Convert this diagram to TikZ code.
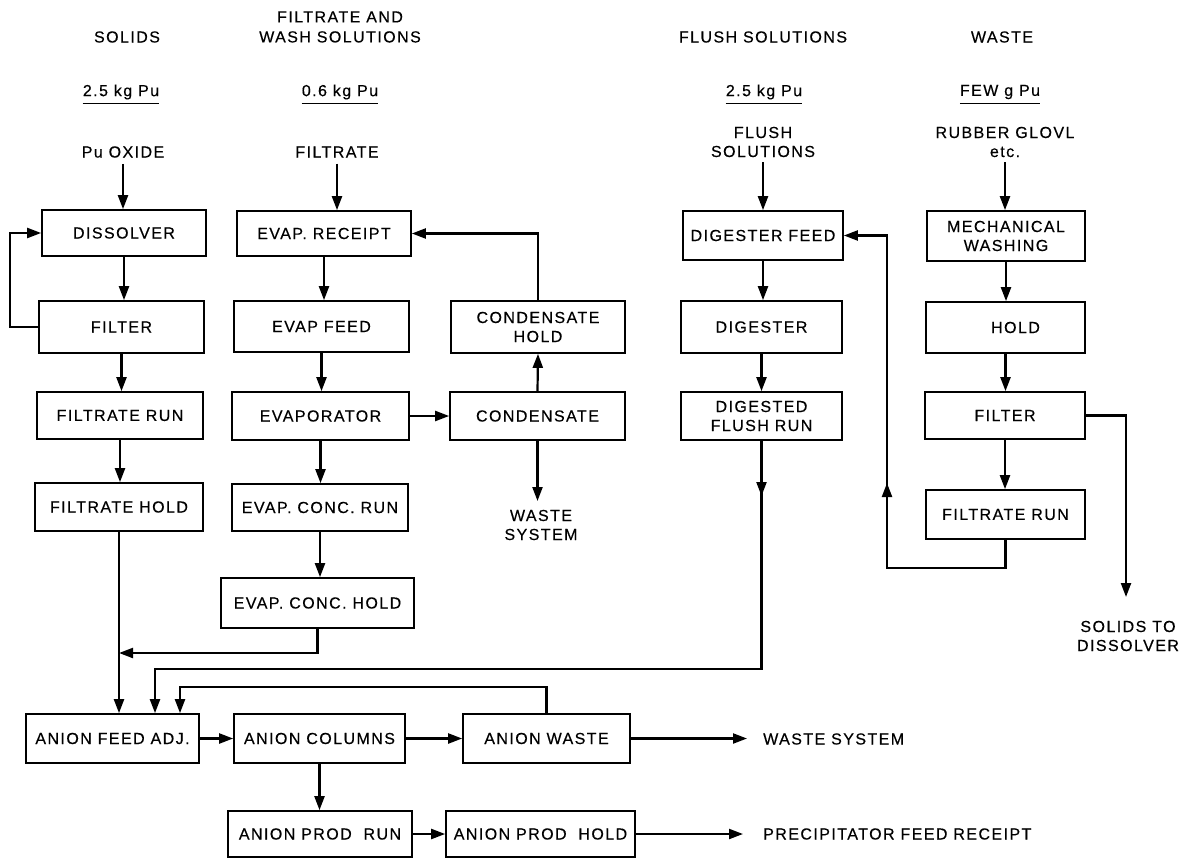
\documentclass[tikz,border=0pt]{standalone}
\usepackage{fontspec}
\setmainfont{Liberation Sans}[LetterSpace=9.0, FakeBold=0.4]
\usetikzlibrary{arrows.meta}
\begin{document}
\begin{tikzpicture}[x=1pt,y=-1pt,
  every node/.style={font=\fontsize{16}{19}\selectfont, inner sep=0pt},
  box/.style={draw, line width=1.7pt, align=center},
  lbl/.style={align=center},
  arr/.style={line width=2.2pt, -{Triangle[length=14pt,width=10pt]}},
  uline/.style={line width=1.3pt}]
\useasboundingbox (0,0) rectangle (1185,858);

% ---------- headers ----------
\node[lbl] (hsolids) at (127,37) {SOLIDS};
\node[lbl, font=\fontsize{16}{20}\selectfont] (hfiltr) at (340,27) {FILTRATE AND\\WASH SOLUTIONS};
\node[lbl] (hflush) at (763,37) {FLUSH SOLUTIONS};
\node[lbl] (hwaste) at (1002,37) {WASTE};

\node[lbl] (kg1) at (121,92) {2.5 kg Pu};
\node[lbl] (kg2) at (340,92) {0.6 kg Pu};
\node[lbl] (kg3) at (764,92) {2.5 kg Pu};
\node[lbl] (kg4) at (1000,92) {FEW g Pu};
\foreach \k in {kg1,kg2,kg3,kg4}
  \draw[uline] ([yshift=-4pt]\k.south west) -- ([yshift=-4pt]\k.south east);

\node[lbl] (pu) at (123,152) {Pu OXIDE};
\node[lbl] (filtrate) at (337,152) {FILTRATE};
\node[lbl] (flush) at (763,142) {FLUSH\\SOLUTIONS};
\node[lbl] (rubber) at (1005,142) {RUBBER GLOVL\\etc.};

% ---------- solids column ----------
\node[box, minimum width=164pt, minimum height=46pt] (dissolver) at (124,233) {DISSOLVER};
\node[box, minimum width=165pt, minimum height=52pt] (filter1) at (121.5,327) {FILTER};
\node[box, minimum width=166pt, minimum height=47pt] (frun1) at (120,415.5) {FILTRATE RUN};
\node[box, minimum width=168pt, minimum height=48pt] (fhold1) at (119,507) {FILTRATE HOLD};

% ---------- filtrate column ----------
\node[box, minimum width=174pt, minimum height=45pt] (evrec) at (324,233.5) {EVAP. RECEIPT};
\node[box, minimum width=175pt, minimum height=51pt] (evfeed) at (321.5,326.5) {EVAP FEED};
\node[box, minimum width=177pt, minimum height=48pt] (evap) at (320.5,416) {EVAPORATOR};
\node[box, minimum width=176pt, minimum height=47pt] (ecrun) at (320,507.5) {EVAP. CONC. RUN};
\node[box, minimum width=193pt, minimum height=50pt] (echold) at (317.5,603) {EVAP. CONC. HOLD};

\node[box, minimum width=174pt, minimum height=52pt] (condhold) at (538,327) {CONDENSATE\\HOLD};
\node[box, minimum width=175pt, minimum height=48pt] (cond) at (537.5,416) {CONDENSATE};
\node[lbl] (wsys1) at (541,525) {WASTE\\SYSTEM};

% ---------- flush column ----------
\node[box, minimum width=160pt, minimum height=49pt] (digfeed) at (763,235.5) {DIGESTER FEED};
\node[box, minimum width=161pt, minimum height=52pt] (digester) at (761.5,327) {DIGESTER};
\node[box, minimum width=161pt, minimum height=48pt] (dfr) at (761.5,416) {DIGESTED\\FLUSH RUN};

% ---------- waste column ----------
\node[box, minimum width=158pt, minimum height=50pt] (mech) at (1006,236) {MECHANICAL\\WASHING};
\node[box, minimum width=159pt, minimum height=51pt] (hold) at (1005.5,327.5) {\hspace{20pt}HOLD};
\node[box, minimum width=160pt, minimum height=47pt] (filter2) at (1005,415.5) {FILTER};
\node[box, minimum width=159pt, minimum height=49pt] (frun2) at (1005.5,514.5) {FILTRATE RUN};
\node[lbl] (solids) at (1128,636) {SOLIDS TO\\DISSOLVER};

% ---------- anion rows ----------
\node[box, minimum width=173pt, minimum height=49pt] (afa) at (112.5,738.5) {ANION FEED ADJ.};
\node[box, minimum width=171pt, minimum height=49pt] (acol) at (319.5,738.5) {ANION COLUMNS};
\node[box, minimum width=167pt, minimum height=49pt] (awaste) at (546.5,738.5) {ANION WASTE};
\node[lbl, anchor=west] (wsys2) at (763,739) {WASTE SYSTEM};
\node[box, minimum width=184pt, minimum height=46pt] (aprun) at (320,834) {ANION PROD\ \ RUN};
\node[box, minimum width=189pt, minimum height=46pt] (aphold) at (540.5,834) {ANION PROD\ \ HOLD};
\node[lbl, anchor=west] (pfr) at (763,834) {PRECIPITATOR FEED RECEIPT};

% ---------- coordinates ----------
\coordinate (lp1) at (10,327);
\coordinate (j1) at (119,653);
\coordinate (ws1) at (537.5,501);
\coordinate (d1) at (761.5,669);
\coordinate (d2) at (155,669);
\coordinate (dm) at (761.5,496);
\coordinate (s1) at (1126,415.5);
\coordinate (s2) at (1126,597);
\coordinate (w1) at (1005.5,568);
\coordinate (w2) at (887,568);
\coordinate (wm) at (887,483);
\coordinate (aw2) at (180,687);
\coordinate (we) at (747,738.5);
\coordinate (pe) at (743,834);

% ---------- connectors: solids ----------
\draw[arr] ([yshift=-6pt]pu.south) -- (pu.south |- dissolver.north);
\draw[arr] (dissolver.south) -- (dissolver.south |- filter1.north);
\draw[arr] (filter1.south) -- (filter1.south |- frun1.north);
\draw[arr] (frun1.south) -- (frun1.south |- fhold1.north);
\draw[arr] (filter1.west) -- (lp1) |- (dissolver.west);
\draw[arr] (fhold1.south) -- (fhold1.south |- afa.north);

% ---------- connectors: filtrate ----------
\draw[arr] ([yshift=-6pt]filtrate.south) -- (filtrate.south |- evrec.north);
\draw[arr] (evrec.south) -- (evrec.south |- evfeed.north);
\draw[arr] (evfeed.south) -- (evfeed.south |- evap.north);
\draw[arr] (evap.south) -- (evap.south |- ecrun.north);
\draw[arr] (ecrun.south) -- (ecrun.south |- echold.north);
\draw[arr] (echold.south) |- (j1);
\draw[arr] (evap.east) -- (cond.west);
\draw[arr] (cond.north) -- (condhold.south);
\draw[arr] (condhold.north) |- (evrec.east);
\draw[arr] (cond.south) -- (ws1);

% ---------- connectors: flush ----------
\draw[arr] ([yshift=-5pt]flush.south) -- (flush.south |- digfeed.north);
\draw[arr] (digfeed.south) -- (digfeed.south |- digester.north);
\draw[arr] (digester.south) -- (digester.south |- dfr.north);
\draw[arr] (dfr.south) -- (d1) -- (d2) -- (d2 |- afa.north);
\draw[arr] (dfr.south) -- (dm);

% ---------- connectors: waste ----------
\draw[arr] ([yshift=-5pt]rubber.south) -- (rubber.south |- mech.north);
\draw[arr] (mech.south) -- (mech.south |- hold.north);
\draw[arr] (hold.south) -- (hold.south |- filter2.north);
\draw[arr] (filter2.south) -- (filter2.south |- frun2.north);
\draw[arr] (filter2.east) -- (s1) -- (s2);
\draw[arr] (frun2.south) -- (w1) -- (w2) |- (digfeed.east);
\draw[arr] (w2) -- (wm);

% ---------- connectors: anion ----------
\draw[arr] (awaste.north) |- (aw2) -- (aw2 |- afa.north);
\draw[arr] (afa.east) -- (acol.west);
\draw[arr] (acol.east) -- (awaste.west);
\draw[arr] (awaste.east) -- (we);
\draw[arr] (acol.south) -- (acol.south |- aprun.north);
\draw[arr] (aprun.east) -- (aphold.west);
\draw[arr] (aphold.east) -- (pe);
\end{tikzpicture}
\end{document}
